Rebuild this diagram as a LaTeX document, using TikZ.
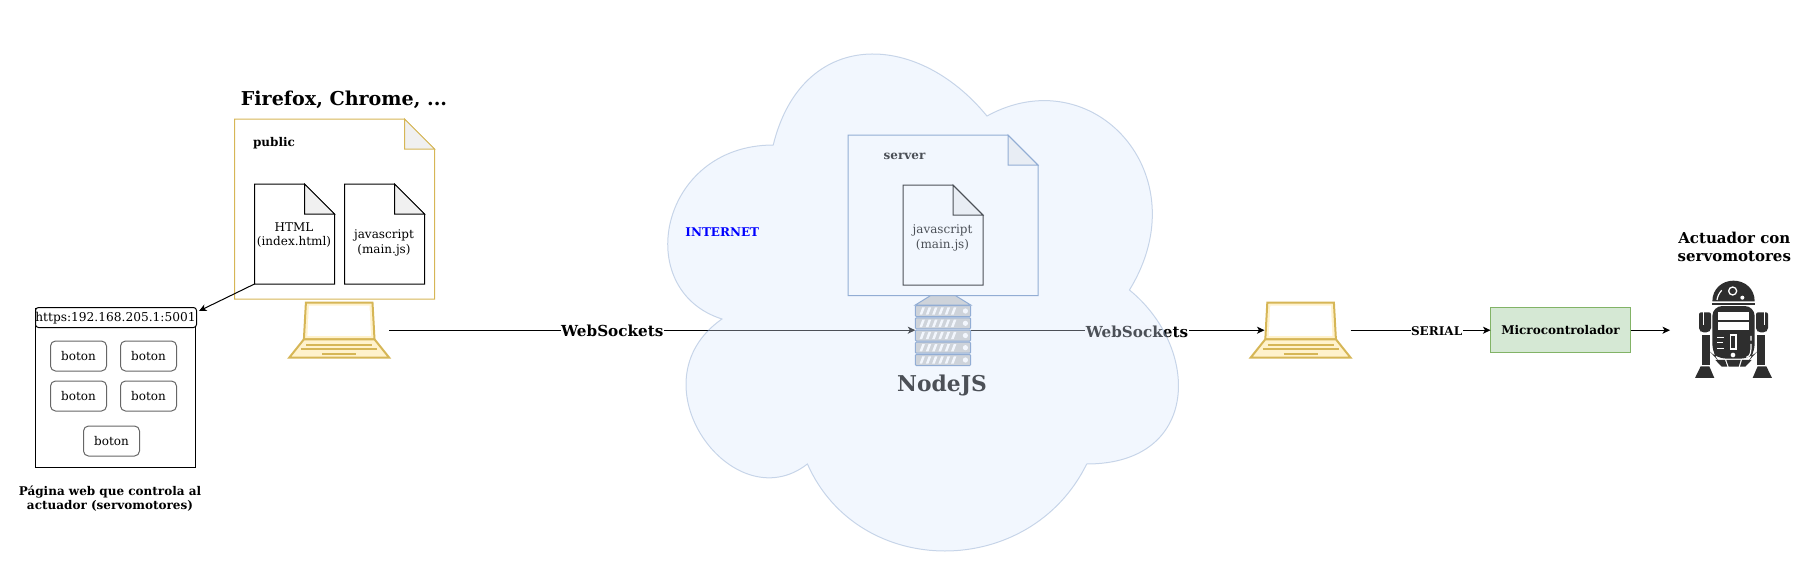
\documentclass[tikz,border=0pt]{standalone}
\usepackage{fontspec}
\setmainfont{DejaVu Serif}
\usetikzlibrary{calc,arrows.meta}
\definecolor{ybrd}{HTML}{D6B656}
\definecolor{yfil}{HTML}{FFF2CC}
\definecolor{bbrd}{HTML}{6C8EBF}
\definecolor{bfil}{HTML}{DAE8FC}
\definecolor{gbrd}{HTML}{82B366}
\definecolor{gfil}{HTML}{D5E8D4}
\definecolor{foldc}{HTML}{F0F0F0}
\definecolor{robotc}{HTML}{2E2E2E}
\definecolor{srvfill}{HTML}{C8C8C8}
\newcommand{\fs}[1]{\fontsize{#1}{#1}\selectfont}
\newcommand{\fsl}[2]{\fontsize{#1}{#2}\selectfont}
\tikzset{
  x=1pt,y=-1pt,
  every node/.style={inner sep=0pt,outer sep=0pt,font=\fs{12}},
  arr/.style={line width=1pt,-{Stealth[length=7.5pt,width=7pt,inset=2pt]}},
  linelabel/.style={fill=white,inner xsep=0.5pt,inner ysep=1pt},
  twol/.style={align=center,font=\fsl{12}{14.4}},
  btn/.style={draw=black!60,line width=1pt,rounded corners=5pt,minimum width=56pt,minimum height=30pt},
}
\newcommand{\docshape}[7]{%
  \node[anchor=north west,minimum width=#4pt,minimum height=#5pt] (#1) at (#2,#3) {};
  \draw[#7,line width=1pt] (#1.north west) -- ($(#1.north east)+(-#6,0)$) -- ($(#1.north east)+(0,#6)$) -- (#1.south east) -- (#1.south west) -- cycle;
  \draw[#7,line width=1pt,fill=foldc] ($(#1.north east)+(-#6,0)$) -- ++(0,#6) -- ++(#6,0) -- cycle;
}
\newcommand{\laptop}[3]{%
  \node[minimum width=100pt,minimum height=55pt] (#1) at (#2,#3) {};
  \begin{scope}[shift={(#2,#3)},draw=ybrd,line width=2pt,line join=miter]
    \draw[fill=yfil] (-33.3,-27.5) -- (33.3,-27.5) -- (35.3,9.1) -- (-35.3,9.1) -- cycle;
    \fill[white] (-30.3,-24.5) -- (30.3,-24.5) -- (31.8,5.6) -- (-31.8,5.6) -- cycle;
    \draw[fill=yfil] (-35.3,9.1) -- (35.3,9.1) -- (50,27.5) -- (-50,27.5) -- cycle;
    \draw (-33,14.5) -- (33,14.5);
    \draw (-38,18.8) -- (38,18.8);
    \draw (-17,23.5) -- (17,23.5);
  \end{scope}
}
\begin{document}
\begin{tikzpicture}
\useasboundingbox (0,0) rectangle (1799,581);
% left group
\node[font=\bfseries\fs{19.1}] (title) at (344,100) {Firefox, Chrome, ...};
\docshape{pub}{234.5}{119}{200}{180}{30}{draw=ybrd}
\node[font=\bfseries\fs{12}] (publ) at (274,143.5) {public};
\docshape{html}{254.5}{184}{80}{100}{30}{draw=black}
\docshape{js}{344.5}{184}{80}{100}{30}{draw=black}
\node[twol] (htmlt) at (294,235) {HTML\\(index.html)};
\node[twol] (jst) at (384,243) {javascript\\(main.js)};
\node[draw=black,line width=1pt,anchor=north west,minimum width=160pt,minimum height=159.5pt] (win) at (35.5,308) {};
\node[draw=black,fill=white,line width=1pt,rounded corners=3pt,anchor=north west,minimum width=161pt,minimum height=20pt] (url) at (35.5,307.5) {};
\node[font=\fs{12.2}] (urlt) at (115.5,318) {https:192.168.205.1:5001};
\node[btn] (b1) at (78.5,356) {boton};
\node[btn] (b2) at (148.5,356) {boton};
\node[btn] (b3) at (78.5,396) {boton};
\node[btn] (b4) at (148.5,396) {boton};
\node[btn] (b5) at (111.5,441) {boton};
\node[align=center,font=\bfseries\fsl{12}{14}] (cap) at (110,498.3) {Página web que controla al\\actuador (servomotores)};
\coordinate (urltip) at (199,311);
\draw[line width=1pt,-{Stealth[length=7.5pt,width=7pt,inset=2pt]}] (html.south west) -- (urltip);
\laptop{lap1}{339.2}{330.2}
\laptop{lap2}{1300.6}{330.2}
\coordinate (lap2in) at (1264.5,330.2);
% server contents (under the cloud)
\docshape{srvdoc}{848}{135.2}{190}{160.5}{30}{draw=bbrd}
\node[font=\bfseries\fs{12}] (srvt) at (904.5,156.5) {server};
\docshape{jsdoc}{903}{185.2}{80}{100}{30}{draw=black}
\node[twol] (jsdt) at (942.5,238) {javascript\\(main.js)};
% server icon
\node[minimum width=55.4pt,minimum height=70pt] (srv) at (943,330.2) {};
\begin{scope}[draw=bbrd,line width=1pt]
  \draw[fill=srvfill] (915.3,305) -- (930.7,295.5) -- (955.3,295.5) -- (970.7,305) -- cycle;
  \foreach \ty in {305.5,317.8,330,342.2,354.5}{
    \draw[fill=srvfill,rounded corners=1pt] (915.3,\ty) rectangle (970.7,\ty+11);
    \foreach \tx in {919.5,925.8,932.1,938.4,944.7,951}{
      \fill[white] (\tx,\ty+9.2) -- (\tx+2.6,\ty+9.2) -- (\tx+5.4,\ty+1.8) -- (\tx+2.8,\ty+1.8) -- cycle;
    }
    \fill[white] (965.4,\ty+5.5) circle[radius=2.6];
  }
\end{scope}
% connectors
\draw[arr] (lap1.east) -- node[pos=.424,linelabel,yshift=-.6pt,font=\bfseries\fs{15.2}] (ws1) {WebSockets} (lap1.east -| srv.west);
\draw[arr] (srv.east) -- node[pos=.566,linelabel,yshift=-1.8pt,font=\bfseries\fs{15.2}] (ws2) {WebSockets} (lap2in);
\node[font=\bfseries\fs{21.8}] (nodej) at (942,385.5) {NodeJS};
% translucent cloud on top
\begin{scope}[shift={(630.7,0)},x=570pt,y=-580pt]
  \path[fill=bfil,fill opacity=.35,draw=bbrd,draw opacity=.35,line width=1pt]
    (.25,.25) .. controls (.05,.25) and (0,.5) .. (.16,.55)
    .. controls (0,.66) and (.18,.9) .. (.31,.8)
    .. controls (.4,1) and (.7,1) .. (.8,.8)
    .. controls (1,.8) and (1,.6) .. (.875,.5)
    .. controls (1,.3) and (.81,.1) .. (.625,.2)
    .. controls (.5,.05) and (.3,.05) .. (.25,.25) -- cycle;
\end{scope}
\node[font=\bfseries\fs{12},text=blue] (inet) at (722.3,232.4) {INTERNET};
% right group
\node[draw=gbrd,fill=gfil,line width=1pt,minimum width=140pt,minimum height=45pt,font=\bfseries\fs{12}] (mc) at (1560.5,330.2) {Microcontrolador};
\draw[arr] (lap2.east) -- node[pos=.615,linelabel,yshift=-1pt,font=\bfseries\fs{12}] (ser) {SERIAL} (mc.west);
\coordinate (robot) at (1670,330.2);
\draw[arr] (mc.east) -- (robot);
\node[align=center,font=\bfseries\fsl{15}{18}] (act) at (1734.3,247) {Actuador con\\servomotores};
% robot icon
\begin{scope}[shift={(1670,270)},x=0.3333pt,y=-0.3333pt]
  \fill[robotc] (127,94) .. controls (127,56) and (157,32) .. (190.5,32) .. controls (225,32) and (254,56) .. (254,94) -- cycle;
  \fill[robotc] (127,98) rectangle (254,104);
  \fill[robotc,rounded corners=10pt] (127,108) -- (254,108) -- (254,253) -- (242,266) -- (139,266) -- (127,253) -- cycle;
  \fill[robotc] (136,270) -- (165,270) -- (172,290) -- (155,290) -- cycle;
  \fill[robotc] (169,270) -- (212,270) -- (206,290) -- (176,290) -- cycle;
  \fill[robotc] (216,270) -- (245,270) -- (226,290) -- (210,290) -- cycle;
  \foreach \s/\c in {1/0,-1/381}{
    \begin{scope}[xshift=\c*0.3333pt,x=\s*0.3333pt]
      \fill[robotc,rounded corners=2pt] (87,127) -- (123,127) -- (123,180) -- (115,187) -- (95,187) -- (87,180) -- cycle;
      \fill[white] (97.5,127) rectangle (100.5,165);
      \fill[robotc] (95,195) rectangle (120,285);
      \fill[robotc] (92,289) -- (118,289) -- (133,324) -- (75,324) -- cycle;
    \end{scope}
  }
  \fill[white] (145,127) rectangle (237,150);
  \fill[white] (145,157) rectangle (237,180);
  \draw[white,line width=1.3pt] (181,195) rectangle (198,237);
  \draw[white,line width=1.3pt] (142,203) -- (162,203) (142,218) -- (158,218) (142,235) -- (162,235);
  \fill[white] (189,255) circle[radius=7];
  \draw[white,line width=1.3pt] (188,63) circle[radius=12];
  \fill[white] (217,83) circle[radius=6];
  \draw[white,line width=1.2pt] (141,90) .. controls (143,78) and (147,70) .. (155,61);
  \draw[white,line width=1.2pt] (243,198) -- (243,212) (243,222) .. controls (243,245) and (243,258) .. (229,262);
\end{scope}
\end{tikzpicture}
\end{document}
